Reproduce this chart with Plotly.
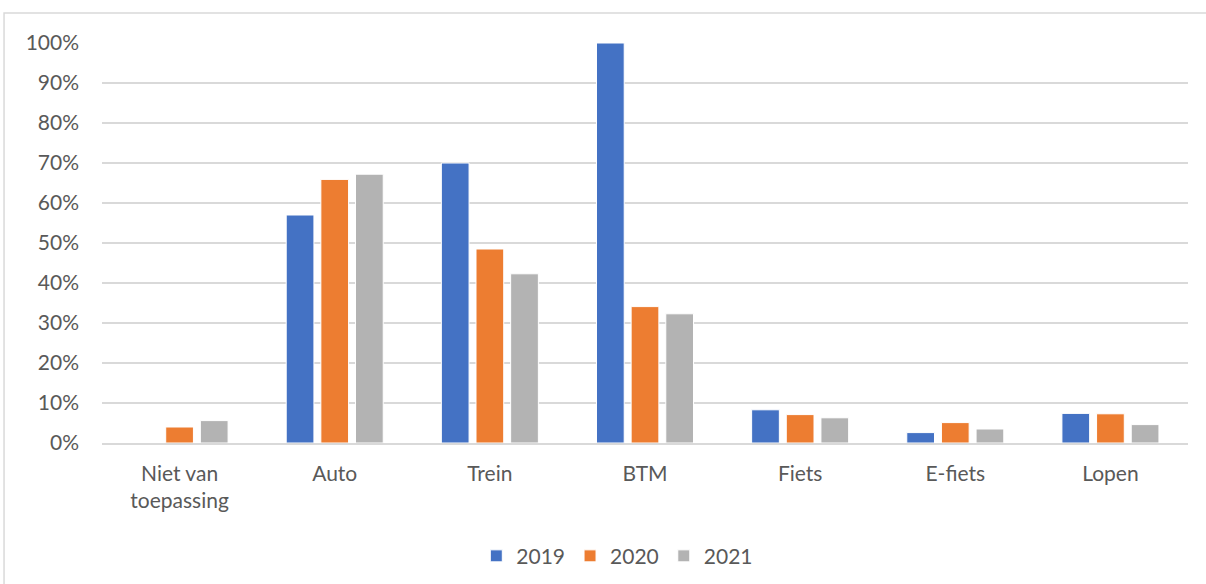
import plotly.graph_objects as go

categories = ["Niet van<br>toepassing", "Auto", "Trein", "BTM", "Fiets", "E-fiets", "Lopen"]
years = ["2019", "2020", "2021"]
values_2019 = [None, 0.57, 0.70, 1.00, 0.083, 0.026, 0.074]
values_2020 = [0.040, 0.659, 0.485, 0.341, 0.071, 0.051, 0.073]
values_2021 = [0.056, 0.672, 0.423, 0.323, 0.063, 0.035, 0.046]
tick_vals = [i / 10 for i in range(11)]
tick_text = [f"{i * 10}%" for i in range(11)]

colors = ["#4472c4", "#ed7d31", "#b3b3b3"]

fig = go.Figure()
for name, vals, col in zip(years, [values_2019, values_2020, values_2021], colors):
    fig.add_trace(go.Bar(
        x=categories,
        y=vals,
        name=name,
        marker={"color": col, "line": {"color": "white", "width": 1}},
    ))

fig.update_layout(
    width=1206,
    height=584,
    barmode="group",
    bargap=0.33,
    bargroupgap=0.2,
    plot_bgcolor="white",
    paper_bgcolor="white",
    font={"family": "Lato, Open Sans, sans-serif", "size": 21, "color": "#595959"},
    margin={"l": 102, "r": 18, "t": 43, "b": 141, "autoexpand": False},
    legend={
        "orientation": "h",
        "x": 0.4745, "xanchor": "center",
        "y": -0.283, "yanchor": "middle",
        "font": {"size": 21, "color": "#595959"},
        "itemwidth": 30,
        "traceorder": "normal",
    },
    xaxis={
        "showgrid": False,
        "showline": True,
        "linecolor": "#d9d9d9",
        "linewidth": 1.5,
        "ticks": "",
        "ticklabelstandoff": 11,
    },
    yaxis={
        "range": [0, 1.0],
        "tickvals": tick_vals,
        "ticktext": tick_text,
        "showgrid": True,
        "gridcolor": "#d9d9d9",
        "gridwidth": 1.5,
        "zeroline": False,
        "ticks": "",
        "ticklabelstandoff": 22,
    },
    shapes=[{
        "type": "rect",
        "xref": "paper", "yref": "paper",
        "x0": -0.0902, "x1": 1.03,
        "y0": -0.40, "y1": 1.075,
        "line": {"color": "#d9d9d9", "width": 1.5},
        "fillcolor": "rgba(0,0,0,0)",
        "layer": "below",
    }],
)

# drop the default page margin so the chart sits flush in the window
fig.write_html(
    "out.html",
    config={"displayModeBar": False},
    post_script="document.body.style.margin='0px';",
)
